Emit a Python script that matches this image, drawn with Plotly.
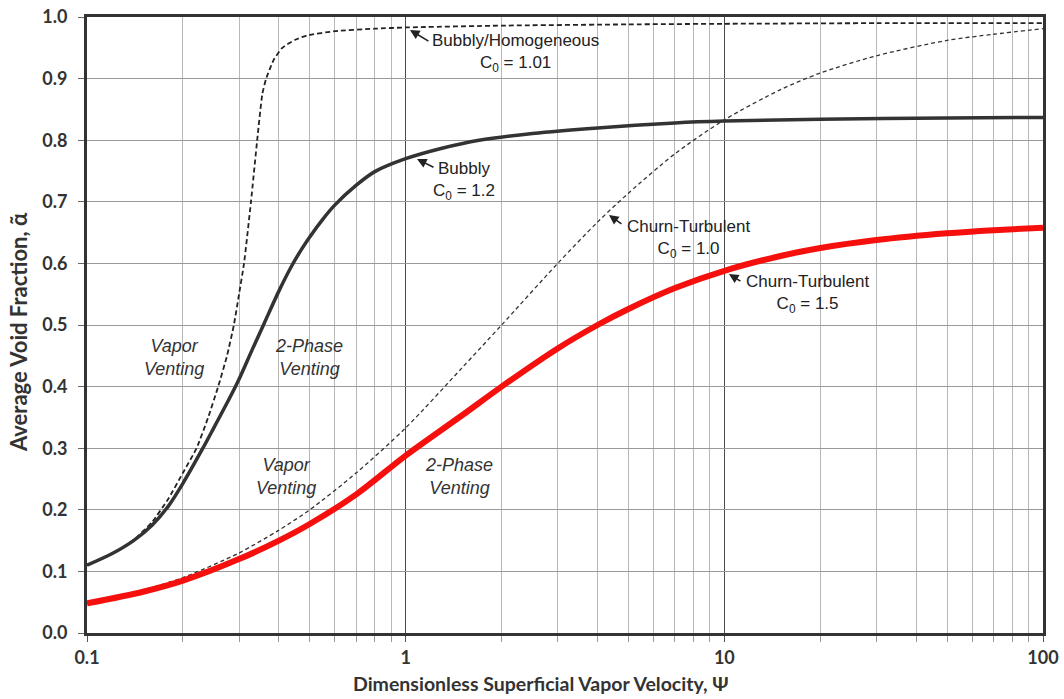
import numpy as np
import plotly.graph_objects as go

# ---- data ----
homog_x = [0.1, 0.12, 0.14, 0.16, 0.18, 0.2, 0.2207, 0.24, 0.258, 0.275, 0.289, 0.3, 0.311, 0.327, 0.342, 0.355, 0.365, 0.385, 0.41, 0.45, 0.49, 0.6, 0.8, 1, 2, 5, 10, 30, 100]
homog_y = [0.11, 0.129, 0.151, 0.18, 0.218, 0.26, 0.3, 0.35, 0.4, 0.45, 0.5, 0.55, 0.6, 0.7, 0.8, 0.875, 0.9, 0.93, 0.95, 0.963, 0.97, 0.977, 0.981, 0.983, 0.986, 0.988, 0.989, 0.99, 0.99]

bubbly_x = [0.1, 0.12, 0.14, 0.16, 0.18, 0.2, 0.231, 0.25, 0.28, 0.3, 0.33, 0.36, 0.4, 0.44, 0.47, 0.5, 0.55, 0.6, 0.7, 0.8, 1, 1.3, 1.7, 2.5, 4, 7, 10, 20, 50, 100]
bubbly_y = [0.11, 0.129, 0.15, 0.175, 0.206, 0.243, 0.3, 0.333, 0.381, 0.412, 0.46, 0.503, 0.555, 0.597, 0.622, 0.643, 0.672, 0.695, 0.727, 0.749, 0.77, 0.787, 0.8, 0.811, 0.82, 0.828, 0.831, 0.834, 0.836, 0.837]

churn1_x = [0.1, 0.15, 0.2, 0.3, 0.4, 0.5, 0.7, 1, 1.5, 2, 3, 4, 5, 7, 10, 15, 20, 30, 50, 70, 100]
churn1_y = [0.048, 0.07, 0.09, 0.13, 0.167, 0.2, 0.26, 0.333, 0.43, 0.5, 0.6, 0.667, 0.714, 0.778, 0.833, 0.882, 0.909, 0.937, 0.962, 0.972, 0.981]

churn15_x = [0.1, 0.15, 0.2, 0.3, 0.4, 0.5, 0.7, 1, 1.5, 2, 3, 4, 5, 7, 10, 15, 20, 30, 50, 70, 100]
churn15_y = [0.048, 0.067, 0.085, 0.12, 0.15, 0.177, 0.225, 0.288, 0.353, 0.40, 0.462, 0.50, 0.526, 0.56, 0.588, 0.612, 0.625, 0.638, 0.649, 0.654, 0.658]

x_major_ticks = [0.1, 1, 10, 100]
x_major_labels = ["0.1", "1", "10", "100"]
x_minor_ticks = [m * d for d in (0.1, 1, 10) for m in range(2, 10)]

fig = go.Figure()

fig.add_trace(go.Scatter(x=homog_x, y=homog_y, mode="lines",
                         line=dict(color="#222", width=1.8, dash="5px,3px", shape="spline", smoothing=0.5),
                         hoverinfo="skip", showlegend=False))
fig.add_trace(go.Scatter(x=bubbly_x, y=bubbly_y, mode="lines",
                         line=dict(color="#333", width=3.5, shape="spline", smoothing=0.8),
                         hoverinfo="skip", showlegend=False))
fig.add_trace(go.Scatter(x=churn1_x, y=churn1_y, mode="lines",
                         line=dict(color="#333", width=1.3, dash="4px,3px", shape="spline", smoothing=0.8),
                         hoverinfo="skip", showlegend=False))
fig.add_trace(go.Scatter(x=churn15_x, y=churn15_y, mode="lines",
                         line=dict(color="#f5100e", width=6, shape="spline", smoothing=0.8),
                         hoverinfo="skip", showlegend=False))


def lx(px):
    # horizontal pixel position inside the plot -> log10 x (annotation placement only)
    return (px - 87) / 318.7 - 1


def ly(py):
    return (633 - py) / 616


ann_font = dict(family="Liberation Sans, Arial, sans-serif", size=17, color="#222")
ital_font = dict(family="Liberation Sans, Arial, sans-serif", size=18, color="#333", style="italic")

# arrows: (tip px x, tip px y, ax, ay)
arrows = [(410, 30, 20, 12), (417, 159, 18, 9), (609, 215, 14, 10), (729, 274, 13, 8)]
for tx, ty, ax, ay in arrows:
    fig.add_annotation(x=lx(tx), y=ly(ty), xref="x", yref="y", text="", showarrow=True,
                       ax=ax, ay=ay, arrowhead=2, arrowsize=1.2, arrowwidth=1.6, arrowcolor="#222")

# text blocks: (center px x, center px y, text)
blocks = [
    (516, 53, "Bubbly/Homogeneous<br>C<sub>0</sub> = 1.01"),
    (464, 181, "Bubbly<br>C<sub>0</sub> = 1.2"),
    (689, 239, "Churn-Turbulent<br>C<sub>0</sub> = 1.0"),
    (808, 294, "Churn-Turbulent<br>C<sub>0</sub> = 1.5"),
]
for px, py, txt in blocks:
    fig.add_annotation(x=lx(px), y=ly(py), xref="x", yref="y", text=txt, showarrow=False, font=ann_font)

regions = [
    (174, 357, "Vapor<br>Venting"),
    (309, 357, "2-Phase<br>Venting"),
    (286, 476, "Vapor<br>Venting"),
    (459, 476, "2-Phase<br>Venting"),
]
for px, py, txt in regions:
    fig.add_annotation(x=lx(px), y=ly(py), xref="x", yref="y", text=txt, showarrow=False, font=ital_font)

axis_font = dict(family="Lato, 'Open Sans', sans-serif", size=18, color="#333", weight="bold")

# axis titles
fig.add_annotation(x=(541 - 87) / 956, y=(633 - 683) / 616, xref="paper", yref="paper",
                   xanchor="center", yanchor="middle",
                   text="Dimensionless Superficial Vapor Velocity, Ψ", showarrow=False,
                   font=dict(family="Lato, 'Open Sans', sans-serif", size=19.5, color="#333", weight="bold"))
fig.add_annotation(x=(18 - 87) / 956, y=(633 - 332) / 616, xref="paper", yref="paper",
                   xanchor="center", yanchor="middle",
                   text="Average Void Fraction, α̃", showarrow=False, textangle=-90,
                   font=dict(family="Lato, 'Open Sans', sans-serif", size=22, color="#333", weight="bold"))

fig.update_xaxes(type="log", range=[-1, 2], automargin=False,
                 tickvals=x_major_ticks, ticktext=x_major_labels,
                 showgrid=True, gridcolor="#4a4a4a", gridwidth=1.3,
                 ticks="outside", ticklen=6, tickcolor="#555", tickwidth=1.3,
                 minor=dict(tickvals=x_minor_ticks, showgrid=True, gridcolor="#b8b8b8", gridwidth=1.2,
                            ticks="outside", ticklen=6, tickcolor="#999"),
                 showline=True, mirror=True, linecolor="#333", linewidth=3,
                 tickfont=axis_font, ticklabelstandoff=0,
                 zeroline=False)
fig.update_yaxes(range=[0, 1], dtick=0.1, tick0=0, tickformat=".1f", automargin=False,
                 showgrid=True, gridcolor="#999", gridwidth=1.3,
                 ticks="outside", ticklen=6, tickcolor="#666", tickwidth=1.3,
                 showline=True, mirror=True, linecolor="#333", linewidth=3,
                 tickfont=axis_font, ticklabelstandoff=7,
                 zeroline=False)

fig.update_layout(width=1064, height=699,
                  margin=dict(l=87, r=21, t=17, b=66),
                  paper_bgcolor="white", plot_bgcolor="white")

fig.write_html("out.html")
